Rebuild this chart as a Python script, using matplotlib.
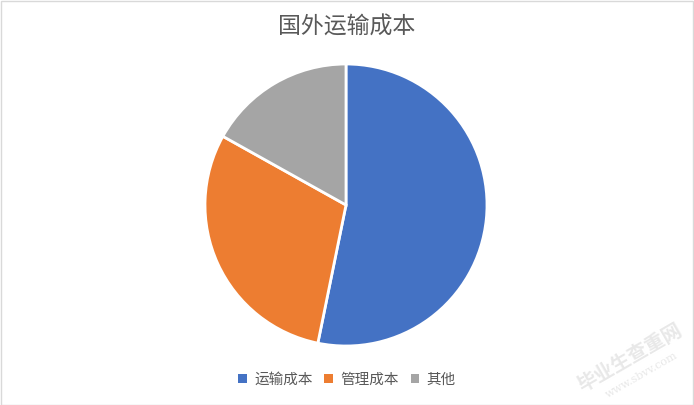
import matplotlib.pyplot as plt
from matplotlib.patches import Rectangle

plt.rcParams['font.family'] = ['Noto Sans CJK SC', 'DejaVu Sans']

# dados (fatias em %)
categories = ["运输成本", "管理成本", "其他"]
values = [53.2, 29.9, 16.9]
colors = ["#4472C4", "#ED7D31", "#A5A5A5"]
title = "国外运输成本"

W, H = 694, 405
fig = plt.figure(figsize=(W / 100, H / 100), dpi=100)

# borda clara do grafico
fig.patches.append(Rectangle((0.5 / W, 0.5 / H), 1 - 1.5 / W, 1 - 1.5 / H,
                             transform=fig.transFigure, fill=False,
                             edgecolor="#D9D9D9", linewidth=1))

# centro (346, 205) e raio 141 px
r = 141
ax = fig.add_axes([(346 - r) / W, (H - 205 - r) / H, 2 * r / W, 2 * r / H])
wedges, _ = ax.pie(values, colors=colors, startangle=90, counterclock=False,
                   wedgeprops=dict(edgecolor="white", linewidth=2))
ax.set_xlim(-1, 1)
ax.set_ylim(-1, 1)
ax.set_aspect("equal")
ax.axis("off")

fig.text(0.5, 1 - 27 / H, title, ha="center", va="center",
         fontsize=16.5, color="#595959")

leg = fig.legend(wedges, categories, loc="center", bbox_to_anchor=(0.5, 1 - 380 / H),
                 ncol=3, frameon=False, fontsize=10.5, handlelength=0.6,
                 handleheight=0.6, handletextpad=0.5, columnspacing=0.8)
for t in leg.get_texts():
    t.set_color("#595959")
for p in leg.get_patches():
    p.set_edgecolor("none")

# marca d'agua
fig.text(630 / W, 1 - 358 / H, "毕业生查重网", rotation=30, ha="center", va="center",
         fontsize=14, color="#E8E8E8", fontweight="bold")
fig.text(642 / W, 1 - 375 / H, "www.sbvv.com", rotation=30, ha="center", va="center",
         fontsize=8, color="#E8E8E8", family="DejaVu Serif")

fig.savefig("out.png", dpi=100)
